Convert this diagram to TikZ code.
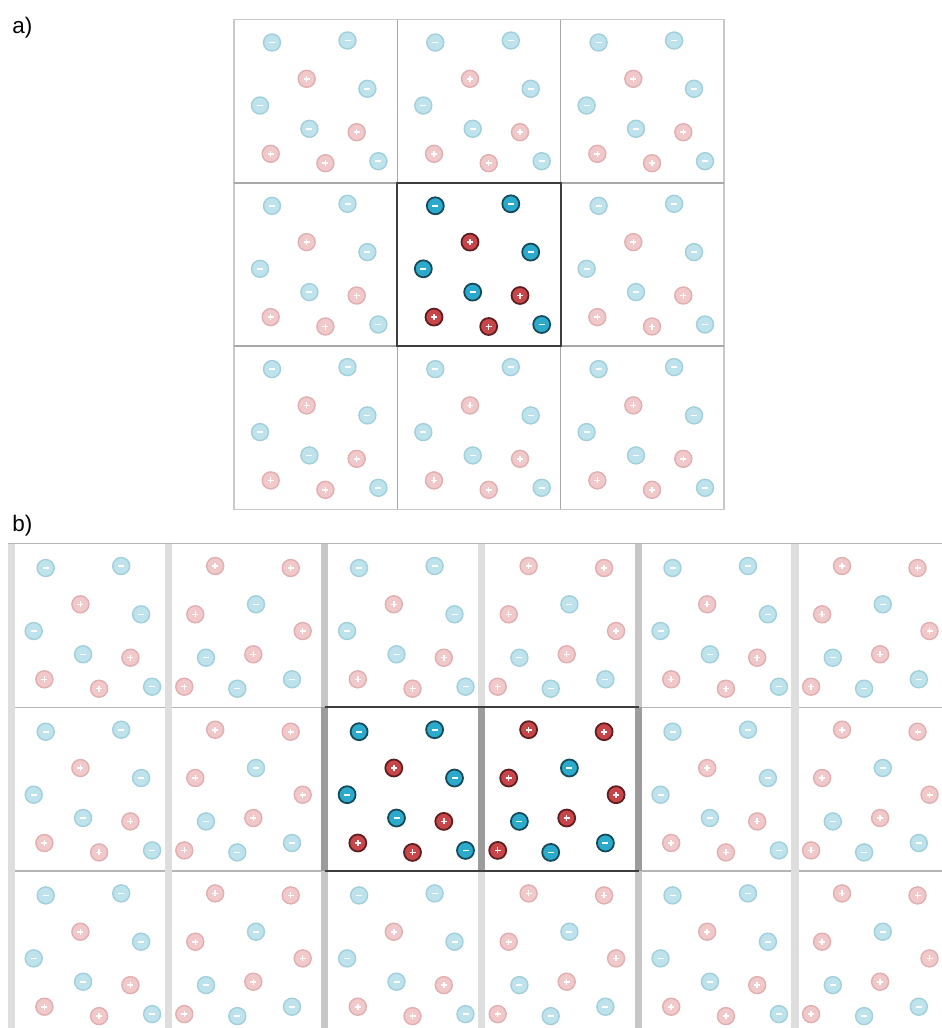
\documentclass[tikz,border=0pt]{standalone}
\usepackage{fontspec}
\setmainfont{Liberation Sans}
\definecolor{negfill}{HTML}{2BAACB}\definecolor{negline}{HTML}{15495A}
\definecolor{posfill}{HTML}{C8464A}\definecolor{posline}{HTML}{5E1D1F}
\definecolor{negfillf}{HTML}{BEE3EC}\definecolor{neglinef}{HTML}{A2CFDA}
\definecolor{posfillf}{HTML}{F2C9CB}\definecolor{poslinef}{HTML}{DFAFB1}
\tikzset{ion/.style={circle,minimum size=3.4mm,inner sep=0pt},
msign/.style={path picture={\draw[white,line width=0.9pt]([xshift=-0.6mm]path picture bounding box.center)--([xshift=0.6mm]path picture bounding box.center);}},
psign/.style={path picture={\draw[white,line width=0.9pt]([xshift=-0.6mm]path picture bounding box.center)--([xshift=0.6mm]path picture bounding box.center)([yshift=-0.6mm]path picture bounding box.center)--([yshift=0.6mm]path picture bounding box.center);}},
negon/.style={ion,msign,fill=negfill,draw=negline,line width=1pt},poson/.style={ion,psign,fill=posfill,draw=posline,line width=1pt},
negoff/.style={ion,msign,fill=negfillf,draw=neglinef,line width=0.8pt},posoff/.style={ion,psign,fill=posfillf,draw=poslinef,line width=0.8pt},
lbl/.style={anchor=base west,inner sep=0pt,font=\fontsize{12.8}{15}\selectfont},
hline/.style={draw=black!29,line width=0.8pt},vbar/.style={draw=black!13,line width=4pt},core/.style={draw=black!76,line width=1.2pt}}
\def\ions{neg/pos/38/23,neg/pos/113.5/21,pos/neg/72.7/59.3,neg/pos/133.4/69.3,neg/pos/26/86,neg/pos/75.4/109.3,pos/neg/122.7/112.7,pos/neg/36.7/134.3,pos/neg/91.4/143.7,neg/pos/144.4/141.7}
\begin{document}
\begin{tikzpicture}[x=0.02cm,y=-0.02cm]
\useasboundingbox(0,0)rectangle(942,1028);
\node[lbl](la)at(12,33){a)};\node[lbl](lb)at(12,531.7){b)};
% a) periodic images round one cell
\draw[draw=black!21,line width=0.8pt](234,19.5)rectangle(723.9,509.4);
\foreach\k in{1,2}{\draw[draw=black!34,line width=0.8pt](234+163.3*\k,19.5)--++(0,489.9);\draw[draw=black!34,line width=0.8pt](234,19.5+163.3*\k)--++(489.9,0);}
\draw[core](397.3,182.8)rectangle++(163.3,163.3);
\foreach\i in{0,1,2}\foreach\j in{0,1,2}{\ifnum\i\j=11 \def\st{on}\else\def\st{off}\fi
\foreach\t/\o/\x/\y[count=\k]in\ions\node[\t\st](a\i\j-\k)at(234+163.3*\i+\x,19.5+163.3*\j+\y){};}
% b) cell and its mirror image, repeated
\begin{scope}
\clip(0,535)rectangle(942,1028);
\foreach\r in{0,1,2}\draw[hline](8,543.5+163.7*\r)--(950,543.5+163.7*\r);
\foreach\c in{0,...,6}\draw[vbar](11.5+156.7*\c,543.5)--++(0,500);
\foreach\c in{2,4}\draw[vbar,draw=black!22](11.5+156.7*\c,543.5)--++(0,500);
\foreach\c in{2,3,4}\draw[vbar,draw=black!39](11.5+156.7*\c,707.2)--++(0,163.7);
\draw[core](325,707.2)--(638.5,707.2)(325,870.9)--(638.5,870.9);
\foreach\c in{0,...,5}\foreach\r in{0,1,2}{\pgfmathtruncatemacro\odd{mod(\c,2)}
\def\st{off}\ifnum\r=1 \ifnum\c>1 \ifnum\c<4 \def\st{on}\fi\fi\fi
\foreach\t/\o/\x/\y[count=\k]in\ions{\ifnum\odd=0 \node[\t\st](b\c\r-\k)at(7.7+156.7*\c+\x,545+163.7*\r+\y){};
\else\node[\o\st](b\c\r-\k)at(172+156.7*\c-\x,545+163.7*\r+\y){};\fi}}
\end{scope}
\end{tikzpicture}
\end{document}
